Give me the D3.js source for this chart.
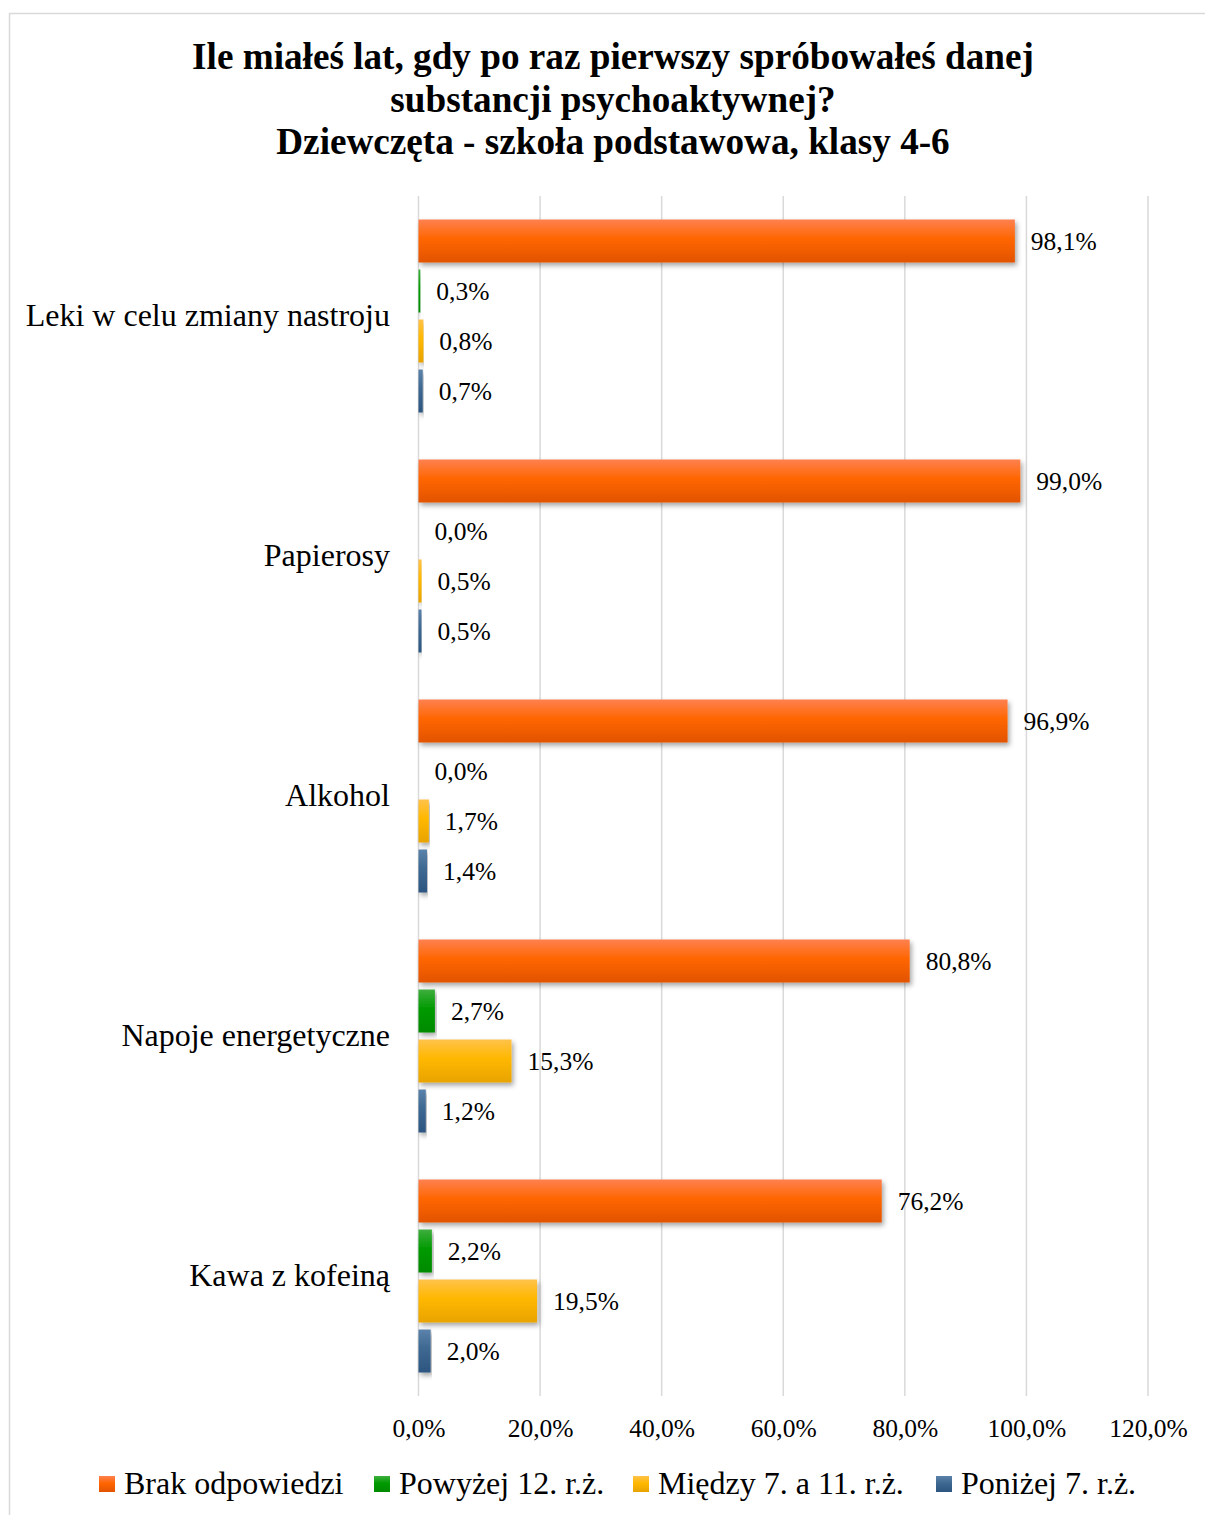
<!DOCTYPE html>
<html><head><meta charset="utf-8">
<script src="https://cdn.jsdelivr.net/npm/d3@7"></script>
<style>body{margin:0;background:#fff}svg{display:block}</style>
</head><body>
<script>
const categories = ["Leki w celu zmiany nastroju","Papierosy","Alkohol","Napoje energetyczne","Kawa z kofeiną"];
const seriesNames = ["Brak odpowiedzi","Powyżej 12. r.ż.","Między 7. a 11. r.ż.","Poniżej 7. r.ż."];
const brak = [98.1, 99.0, 96.9, 80.8, 76.2];
const powyzej12 = [0.3, 0.0, 0.0, 2.7, 2.2];
const miedzy7i11 = [0.8, 0.5, 1.7, 15.3, 19.5];
const ponizej7 = [0.7, 0.5, 1.4, 1.2, 2.0];
const tickValues = [0,20,40,60,80,100,120];
const titleLines = ["Ile miałeś lat, gdy po raz pierwszy spróbowałeś danej","substancji psychoaktywnej?","Dziewczęta - szkoła podstawowa, klasy 4-6"];

const seriesValues = [brak, powyzej12, miedzy7i11, ponizej7];
const colors = [
  ["#ff8150","#ff6600","#e25300"],
  ["#3fae3f","#009a00","#008a00"],
  ["#ffc24a","#ffb800","#e8a300"],
  ["#5b82aa","#3e6891","#2c5680"]
];

const W=1205,H=1515;
const FONT="'Liberation Serif','Times New Roman',serif";
const svg=d3.select("body").append("svg").attr("width",W).attr("height",H)
  .style("font-family",FONT);
const defs=svg.append("defs");
colors.forEach((c,i)=>{
  const g=defs.append("linearGradient").attr("id","g"+i).attr("x1",0).attr("y1",0).attr("x2",0).attr("y2",1);
  g.append("stop").attr("offset","0%").attr("stop-color",c[0]);
  g.append("stop").attr("offset","45%").attr("stop-color",c[1]);
  g.append("stop").attr("offset","100%").attr("stop-color",c[2]);
});
const f=defs.append("filter").attr("id","sh").attr("x","-5%").attr("y","-20%").attr("width","115%").attr("height","160%");
f.append("feDropShadow").attr("dx",2).attr("dy",3).attr("stdDeviation",2.5).attr("flood-color","#000").attr("flood-opacity",0.35);

svg.append("rect").attr("x",9.5).attr("y",13.5).attr("width",W+10).attr("height",H+10)
  .attr("fill","#fff").attr("stroke","#d9d9d9").attr("stroke-width",1.5);

const tt=svg.append("text").attr("text-anchor","middle").attr("font-weight","bold").attr("font-size",37.2).attr("fill","#000");
titleLines.forEach((l,i)=>tt.append("tspan").attr("x",613).attr("y",69+i*42.5).text(l));

const x=d3.scaleLinear().domain([0,120]).range([418.5,1148]);
const y0=d3.scaleBand().domain(categories).range([196,1396]).paddingInner(0).paddingOuter(0);
const y1=d3.scaleBand().domain(d3.range(4)).range([23.5,216.5]).paddingInner(0.14).paddingOuter(0);

const grid=svg.append("g");
grid.selectAll("line").data(tickValues).join("line")
  .attr("x1",d=>x(d)).attr("x2",d=>x(d)).attr("y1",196).attr("y2",1396)
  .attr("stroke","#d9d9d9").attr("stroke-width",1.5);

const xAxis=svg.append("g").attr("transform","translate(0,1396)")
  .call(d3.axisBottom(x).tickValues(tickValues).tickSize(0).tickPadding(0)
    .tickFormat(d=>d3.format(".1f")(d).replace(".",",")+"%"));
xAxis.select(".domain").remove();
xAxis.selectAll("text").attr("y",23).attr("font-size",25.5).attr("fill","#000")
  .attr("font-family",FONT);

svg.append("g").selectAll("text").data(categories).join("text")
  .attr("x",390).attr("y",d=>y0(d)+y0.bandwidth()/2+10).attr("text-anchor","end")
  .attr("font-size",32).attr("fill","#000").text(d=>d);

const fmt=v=>d3.format(".1f")(v).replace(".",",")+"%";
categories.forEach((cat,ci)=>{
  const g=svg.append("g").attr("transform",`translate(0,${y0(cat)})`);
  seriesValues.forEach((arr,si)=>{
    const v=arr[ci];
    if(v>0){
      g.append("rect").attr("x",x(0)).attr("y",y1(si)).attr("width",Math.max(x(v)-x(0),1.5))
        .attr("height",y1.bandwidth()).attr("fill",`url(#g${si})`).attr("filter","url(#sh)");
    }
    g.append("text").attr("x",x(v)+16).attr("y",y1(si)+y1.bandwidth()/2+9)
      .attr("font-size",25.5).attr("fill","#000").text(fmt(v));
  });
});

const legX=[99,374,633,936];
const leg=svg.append("g");
seriesNames.forEach((n,i)=>{
  leg.append("rect").attr("x",legX[i]).attr("y",1476).attr("width",16).attr("height",16).attr("fill",`url(#g${i})`);
  leg.append("text").attr("x",legX[i]+25).attr("y",1494).attr("font-size",32).attr("fill","#000").text(n);
});
</script>
</body></html>
